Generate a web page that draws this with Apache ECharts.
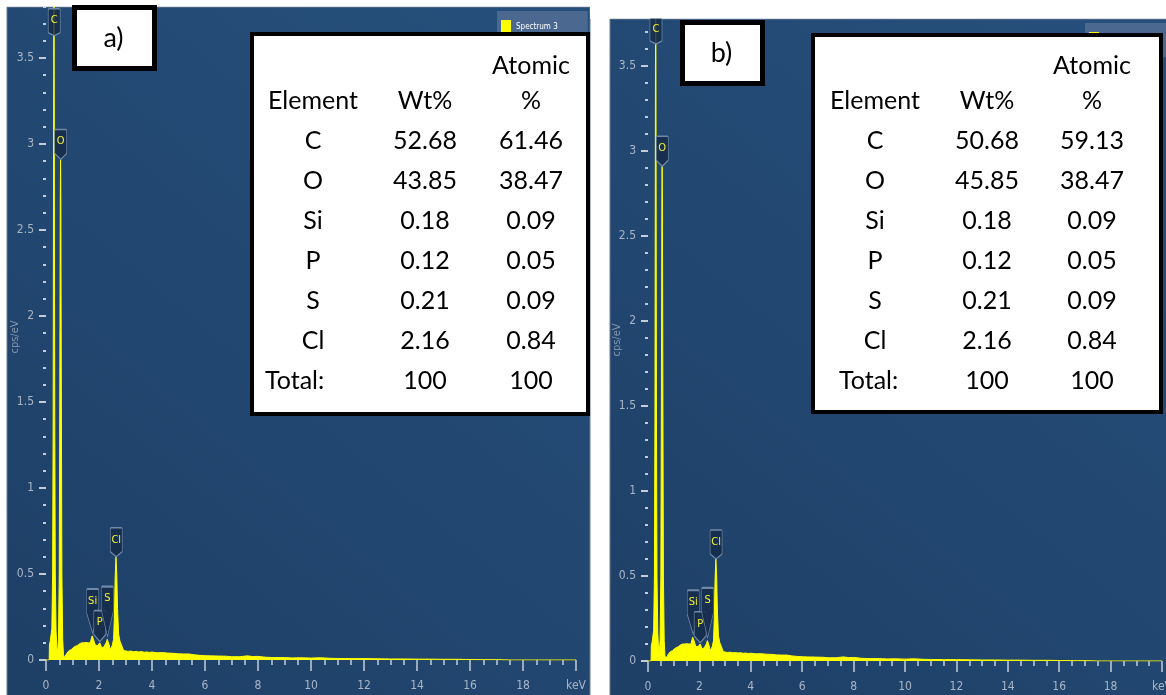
<!DOCTYPE html>
<html>
<head>
<meta charset="utf-8">
<title>EDS spectra</title>
<script src="https://cdn.jsdelivr.net/npm/echarts@6/dist/echarts.min.js"></script>
<style>
  html, body { margin: 0; padding: 0; background: #fff; }
  #chart { width: 1166px; height: 695px; }
</style>
</head>
<body>
<div id="chart"></div>
<script>
// ---- data -------------------------------------------------------------
// EDS spectrum: [energy (keV), intensity (cps/eV)]
const spectrum = [
  [0.00, 0], [0.12, 0], [0.13, 0.09], [0.16, 0.11], [0.19, 0.12], [0.22, 0.18],
  [0.25, 0.5], [0.27, 1.4], [0.29, 3.4], [0.30, 4.3], [0.31, 3.4], [0.33, 1.4],
  [0.35, 0.5], [0.38, 0.17], [0.41, 0.07], [0.44, 0.05], [0.47, 0.12], [0.50, 0.5],
  [0.52, 1.5], [0.54, 2.7], [0.55, 2.92], [0.56, 2.7], [0.58, 1.5], [0.60, 0.5],
  [0.63, 0.12], [0.66, 0.03], [0.70, 0.015], [0.75, 0.02], [0.79, 0.04], [0.83, 0.05],
  [0.87, 0.055], [0.91, 0.065], [0.95, 0.06], [0.99, 0.07], [1.03, 0.072], [1.07, 0.068],
  [1.11, 0.08], [1.15, 0.078], [1.19, 0.085], [1.23, 0.09], [1.27, 0.095], [1.31, 0.09],
  [1.35, 0.1], [1.39, 0.105], [1.43, 0.1], [1.47, 0.098], [1.51, 0.102], [1.55, 0.096],
  [1.59, 0.1], [1.63, 0.104], [1.67, 0.1], [1.70, 0.11], [1.74, 0.14], [1.76, 0.145],
  [1.79, 0.12], [1.83, 0.1], [1.87, 0.085], [1.91, 0.078], [1.95, 0.085], [1.99, 0.095],
  [2.03, 0.1], [2.06, 0.095], [2.10, 0.072], [2.14, 0.068], [2.18, 0.076], [2.22, 0.08],
  [2.27, 0.1], [2.31, 0.12], [2.34, 0.122], [2.38, 0.09], [2.42, 0.06], [2.46, 0.065],
  [2.50, 0.085], [2.55, 0.12], [2.58, 0.25], [2.61, 0.48], [2.64, 0.6], [2.67, 0.5],
  [2.70, 0.3], [2.74, 0.15], [2.79, 0.11], [2.83, 0.105], [2.88, 0.075], [2.93, 0.055],
  [3.0, 0.052], [3.1, 0.05], [3.2, 0.052], [3.3, 0.048], [3.4, 0.05], [3.5, 0.047],
  [3.6, 0.049], [3.7, 0.045], [3.8, 0.047], [3.9, 0.044], [4.0, 0.046], [4.2, 0.042],
  [4.4, 0.043], [4.6, 0.04], [4.8, 0.039], [5.0, 0.036], [5.2, 0.035], [5.4, 0.035],
  [5.6, 0.03], [5.8, 0.027], [6.0, 0.025], [6.2, 0.024], [6.5, 0.023], [6.8, 0.022],
  [7.0, 0.019], [7.3, 0.019], [7.6, 0.024], [7.8, 0.02], [8.0, 0.021], [8.3, 0.016],
  [8.6, 0.014], [9.0, 0.014], [9.3, 0.012], [9.6, 0.013], [10.0, 0.011], [10.35, 0.013],
  [10.7, 0.01], [11.0, 0.009], [11.5, 0.008], [12.0, 0.008], [12.5, 0.007], [13.0, 0.006],
  [13.5, 0.006], [14.0, 0.005], [14.5, 0.005], [15.0, 0.004], [15.5, 0.004], [16.0, 0.003],
  [16.5, 0.002], [17.0, 0.002], [17.3, 0.001], [17.5, 0], [20, 0]
];

// identified peaks: element and [energy, height of the label tip]
const peakNames = ['C', 'O', 'Si', 'P', 'S', 'Cl'];
const peakTips = [[0.31, 3.63], [0.555, 2.91], [1.76, 0.157], [2.03, 0.107], [2.32, 0.136], [2.65, 0.6]];

// quantification tables
const tableHeads = ['Element', 'Wt%', 'Atomic', '%'];
const tableElements = ['C', 'O', 'Si', 'P', 'S', 'Cl', 'Total:'];
const wtA = ['52.68', '43.85', '0.18', '0.12', '0.21', '2.16', '100'];
const atA = ['61.46', '38.47', '0.09', '0.05', '0.09', '0.84', '100'];
const wtB = ['50.68', '45.85', '0.18', '0.12', '0.21', '2.16', '100'];
const atB = ['59.13', '38.47', '0.09', '0.05', '0.09', '0.84', '100'];

const panelTags = ['a)', 'b)'];
const seriesName = 'Spectrum 3';
const yAxisName = 'cps/eV';
const xUnitLabel = 'keV';
const xRange = [0, 20], xStep = 2;
const yRange = [0, 4], yStep = 0.5;

// ---- layout & style ---------------------------------------------------
const AXIS_FONT = '"Liberation Sans Narrow", "DejaVu Sans Condensed", "Roboto", sans-serif';
const TABLE_FONT = 'Lato, "Open Sans", sans-serif';
const YELLOW = '#ffff00';
const TICK = '#c3ccd8';
const LABEL = '#a9b6c7';

// pointer length of each peak tag (px)
const tagTails = [3, 6, 20, 7, 26, 5];

const panels = [
  { bg: [7, 7, 583, 700], grid: { left: 46, top: -28, width: 530, height: 688 },
    legend: [497, 11], tag: [74.5, 7.5], table: [252, 34, 336, 380],
    cols: [313, 425, 531], totalX: 265, nameY: 337, wt: wtA, at: atA },
  { bg: [610, 19, 560, 700], grid: { left: 648, top: -19, width: 514, height: 680 },
    legend: [1085, 23], tag: [682.5, 22.5], table: [813, 35, 348, 377],
    cols: [875, 987, 1092], totalX: 839, nameY: 340, wt: wtB, at: atB }
];

function tagPath(tail) {
  return 'path://M1,0 H11 Q12,0 12,1 V24 L6,' + (24 + tail) + ' L0,24 V1 Q0,0 1,0 Z';
}

const chart = echarts.init(document.getElementById('chart'), null, { renderer: 'canvas' });

const grids = [], xAxes = [], yAxes = [], series = [], legends = [], graphics = [];

panels.forEach((p, i) => {
  grids.push(Object.assign({ outerBoundsMode: 'none', containLabel: false }, p.grid));

  xAxes.push({
    type: 'value', gridIndex: i, min: xRange[0], max: xRange[1], interval: xStep, offset: 2,
    axisLine: { show: false }, splitLine: { show: false },
    axisTick: { show: true, length: 11, lineStyle: { color: TICK, width: 1.5 } },
    minorTick: { show: true, splitNumber: 4, length: 5, lineStyle: { color: TICK, width: 1.5 } },
    axisLabel: {
      margin: 18, color: LABEL, fontSize: 12, fontFamily: AXIS_FONT,
      formatter: v => (v === xRange[1] ? xUnitLabel : String(v))
    }
  });

  yAxes.push({
    type: 'value', gridIndex: i, min: yRange[0], max: yRange[1], interval: yStep, offset: 2,
    axisLine: { show: false }, splitLine: { show: false },
    axisTick: { show: true, length: 7, lineStyle: { color: TICK, width: 2 } },
    minorTick: { show: true, splitNumber: 5, length: 3, lineStyle: { color: TICK, width: 2 } },
    axisLabel: { margin: 10, color: LABEL, fontSize: 12, fontFamily: AXIS_FONT }
  });

  series.push({
    name: seriesName, type: 'line', xAxisIndex: i, yAxisIndex: i,
    data: spectrum, symbol: 'none', showSymbol: false, clip: true, z: 2,
    itemStyle: { color: YELLOW },
    lineStyle: { color: YELLOW, width: 1 },
    areaStyle: { color: YELLOW, opacity: 1 },
    markPoint: {
      silent: true,
      itemStyle: { color: 'rgba(22,44,74,0.85)', borderColor: '#7189a8', borderWidth: 1 },
      label: { show: true, formatter: '{b}', color: '#f4f43a', fontSize: 11, fontFamily: AXIS_FONT },
      data: peakNames.map((n, k) => ({
        name: n, coord: peakTips[k],
        symbol: tagPath(tagTails[k]),
        symbolSize: [12, 24 + tagTails[k]],
        symbolOffset: [0, '-50%'],
        label: { offset: [0, -tagTails[k] / 2] }
      }))
    }
  });

  legends.push({
    data: [seriesName], left: p.legend[0], top: p.legend[1], orient: 'vertical',
    icon: 'rect', itemWidth: 10, itemHeight: 13, itemGap: 0,
    padding: [9, 30, 12, 4], backgroundColor: '#4b6990', selectedMode: false,
    textStyle: { color: '#ffffff', fontSize: 8, fontFamily: AXIS_FONT }
  });

  // panel background
  graphics.push({
    type: 'rect', z: 0, silent: true,
    shape: { x: p.bg[0], y: p.bg[1], width: p.bg[2], height: p.bg[3] },
    style: {
      fill: new echarts.graphic.LinearGradient(0, 1, 1, 0, [
        { offset: 0, color: '#1e3f66' }, { offset: 1, color: '#26507c' }
      ]),
      stroke: '#6a7b91', lineWidth: 1
    }
  });
  // white margin above the panel clips the tallest peak
  graphics.push({
    type: 'rect', z: 50, silent: true,
    shape: { x: p.bg[0] - 20, y: -60, width: p.bg[2] + 40, height: p.bg[1] + 60 - 0.5 },
    style: { fill: '#ffffff' }
  });
  // y-axis title
  graphics.push({
    type: 'text', z: 5, silent: true, x: p.grid.left - 31, y: p.nameY, rotation: Math.PI / 2,
    style: { text: yAxisName, fill: '#8596ad', fontSize: 11, fontFamily: AXIS_FONT, align: 'center', verticalAlign: 'middle' }
  });
  // panel tag box
  graphics.push({
    type: 'rect', z: 100, silent: true,
    shape: { x: p.tag[0], y: p.tag[1], width: 80, height: 61 },
    style: { fill: '#ffffff', stroke: '#000000', lineWidth: 5 }
  });
  graphics.push({
    type: 'text', z: 101, silent: true, x: p.tag[0] + 39, y: p.tag[1] + 31,
    style: { text: panelTags[i], fill: '#000', fontSize: 27, fontFamily: TABLE_FONT, align: 'center', verticalAlign: 'middle' }
  });
  // quantification table
  const t = p.table;
  graphics.push({
    type: 'rect', z: 100, silent: true,
    shape: { x: t[0], y: t[1], width: t[2], height: t[3] },
    style: { fill: '#ffffff', stroke: '#000000', lineWidth: 4 }
  });
  const txt = (s, x, y, align) => ({
    type: 'text', z: 101, silent: true, x: x, y: y,
    style: { text: s, fill: '#000', fontSize: 25, fontFamily: TABLE_FONT, align: align || 'center', verticalAlign: 'middle' }
  });
  const headY = 101, atomY = 66, row0 = 141, rowH = 40;
  graphics.push(txt(tableHeads[0], p.cols[0], headY));
  graphics.push(txt(tableHeads[1], p.cols[1], headY));
  graphics.push(txt(tableHeads[2], p.cols[2], atomY));
  graphics.push(txt(tableHeads[3], p.cols[2], headY));
  tableElements.forEach((el, r) => {
    const y = row0 + r * rowH;
    const last = r === tableElements.length - 1;
    graphics.push(last ? txt(el, p.totalX, y, 'left') : txt(el, p.cols[0], y));
    graphics.push(txt(p.wt[r], p.cols[1], y));
    graphics.push(txt(p.at[r], p.cols[2], y));
  });
});

chart.setOption({
  animation: false,
  backgroundColor: '#ffffff',
  grid: grids,
  xAxis: xAxes,
  yAxis: yAxes,
  legend: legends,
  series: series,
  graphic: graphics
});
</script>
</body>
</html>
